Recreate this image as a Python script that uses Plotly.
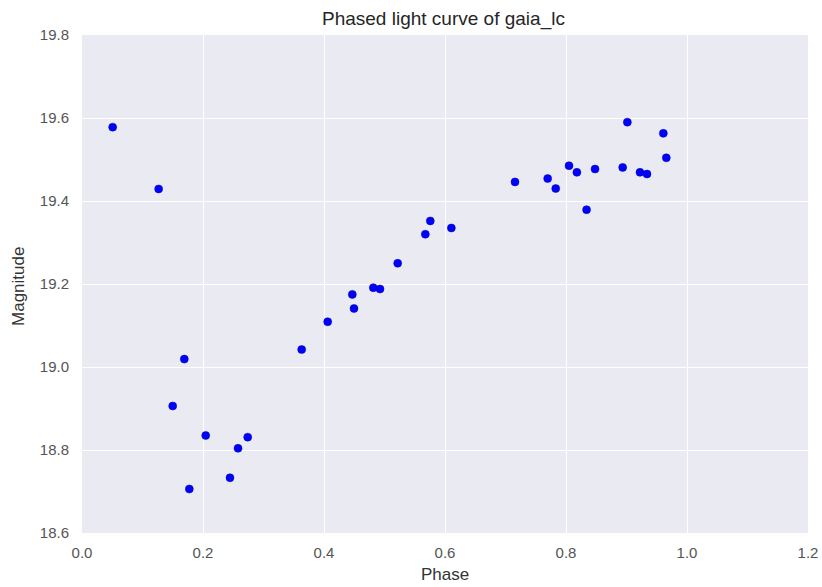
import plotly.graph_objects as go

phase = [0.0507, 0.1267, 0.5218, 0.4468, 0.4815, 0.4926, 0.9014, 0.9609, 0.9658,
         0.805, 0.818, 0.848, 0.8937, 0.9223, 0.9339, 0.7157, 0.7697, 0.783, 0.834,
         0.5757, 0.5675, 0.6105, 0.4496, 0.4061, 0.3631, 0.1691, 0.1499, 0.2045,
         0.2739, 0.2579, 0.2446, 0.1774]
magnitude = [19.578, 19.429, 19.250, 19.175, 19.191, 19.188, 19.590, 19.563, 19.504,
             19.485, 19.469, 19.477, 19.481, 19.469, 19.465, 19.446, 19.454, 19.430, 19.379,
             19.352, 19.320, 19.335, 19.141, 19.109, 19.042, 19.019, 18.906, 18.835,
             18.831, 18.804, 18.733, 18.706]

x_ticks = [0.0, 0.2, 0.4, 0.6, 0.8, 1.0, 1.2]
y_ticks = [18.6, 18.8, 19.0, 19.2, 19.4, 19.6, 19.8]

fig = go.Figure()
fig.add_trace(go.Scatter(
    x=phase, y=magnitude, mode="markers",
    marker=dict(color="#0000FF", size=8, line=dict(width=0.5, color="#0000AA")),
    showlegend=False,
))

font_family = "Liberation Sans, Arial, sans-serif"
tick_font = dict(size=15, color="#555555", family=font_family)

fig.update_layout(
    width=822, height=587,
    margin=dict(l=82, r=14, t=35, b=54, autoexpand=False),
    paper_bgcolor="white",
    plot_bgcolor="#EAEAF2",
    font=dict(family=font_family, size=15, color="#333333"),
    xaxis=dict(range=[0, 1.2], tickvals=x_ticks, ticktext=[f"{v:.1f}" for v in x_ticks],
               showgrid=True, gridcolor="white", gridwidth=1.2, zeroline=False,
               showline=False, ticks="", ticklabelstandoff=9, automargin=False,
               tickfont=tick_font),
    yaxis=dict(range=[18.6, 19.8], tickvals=y_ticks, ticktext=[f"{v:.1f}" for v in y_ticks],
               showgrid=True, gridcolor="white", gridwidth=1.2, zeroline=False,
               showline=False, ticks="", ticklabelstandoff=12, automargin=False,
               tickfont=tick_font),
    annotations=[
        dict(text="Phased light curve of gaia_lc", xref="paper", yref="paper",
             x=0.4986, y=1.0331, xanchor="center", yanchor="middle", showarrow=False,
             font=dict(size=19, color="#262626")),
        dict(text="Phase", xref="paper", yref="paper",
             x=0.5, y=-0.0843, xanchor="center", yanchor="middle", showarrow=False,
             font=dict(size=17, color="#333333")),
        dict(text="Magnitude", xref="paper", yref="paper",
             x=-0.0868, y=0.496, xanchor="center", yanchor="middle", showarrow=False,
             textangle=-90, font=dict(size=17, color="#333333")),
    ],
)

fig.write_html(
    "out.html",
    config={"displayModeBar": False},
    post_script="document.body.style.margin='0';document.body.style.overflow='hidden';",
)
